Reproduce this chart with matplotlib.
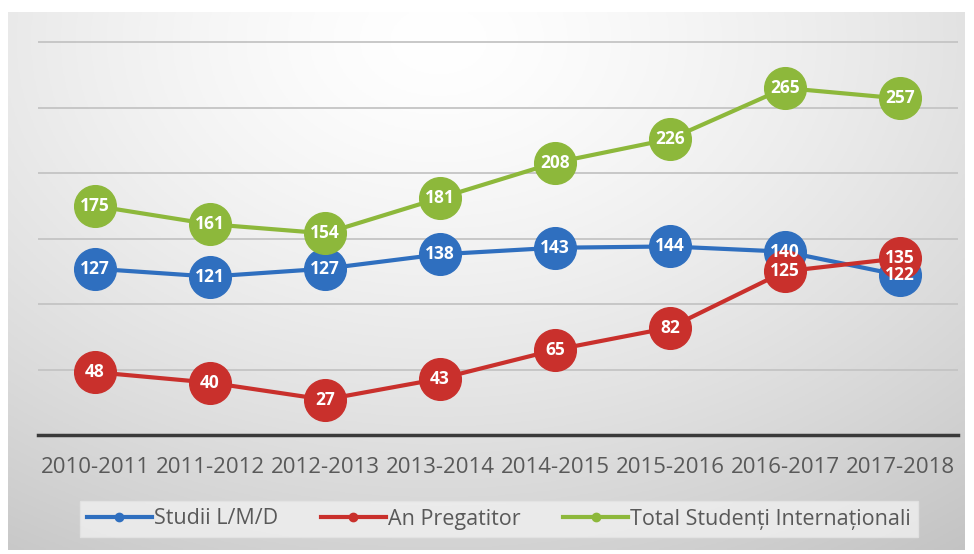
import matplotlib
matplotlib.use('Agg')
import matplotlib.pyplot as plt
import numpy as np
from matplotlib.lines import Line2D

# Данные
years = ['2010-2011', '2011-2012', '2012-2013', '2013-2014',
         '2014-2015', '2015-2016', '2016-2017', '2017-2018']
studii = [127, 121, 127, 138, 143, 144, 140, 122]
pregatitor = [48, 40, 27, 43, 65, 82, 125, 135]
total = [175, 161, 154, 181, 208, 226, 265, 257]

names = ['Studii L/M/D', 'An Pregatitor', 'Total Studenți Internaționali']
colors = ['#2f6fbf', '#c9302c', '#8db83b']

W, H = 974, 554
fig = plt.figure(figsize=(W / 100, H / 100), dpi=100)
fig.patch.set_facecolor('white')

# Фон с градиентом
bg = fig.add_axes([8 / W, 4 / H, 957 / W, 538 / H])
gx, gy = np.meshgrid(np.linspace(0, 1, 300), np.linspace(0, 1, 200))
dist = np.sqrt(((gx - 0.45) / 0.95) ** 2 + ((gy - 0.05) / 1.2) ** 2)
shade = 1.0 - 0.24 * np.clip(dist, 0, 1) ** 1.4
bg.imshow(np.dstack([shade, shade, shade]), aspect='auto', extent=(0, 1, 0, 1), origin='upper')
bg.set_axis_off()

ax = fig.add_axes([37.5 / W, (H - 435) / H, 920 / W, 419 / H])
ax.set_facecolor('none')
x = np.arange(len(years))

for vals, col in zip([studii, pregatitor, total], colors):
    ax.plot(x, vals, color=col, linewidth=3, marker='o', markersize=30,
            markeredgecolor=col, zorder=3)

for vals in [studii, pregatitor, total]:
    for xi, v in zip(x, vals):
        ax.text(xi, v, str(v), ha='center', va='center', color='white',
                fontsize=12.5, fontweight='bold', family='Open Sans', zorder=5)

ax.set_xlim(-0.5, len(years) - 0.5)
ax.set_ylim(0, 320)
ax.set_yticks([50, 100, 150, 200, 250, 300])
ax.yaxis.grid(True, color='#c4c4c4', linewidth=1.3)
ax.set_axisbelow(True)
ax.tick_params(axis='y', left=False, labelleft=False)
ax.tick_params(axis='x', length=0, pad=16)
ax.set_xticks(x)
ax.set_xticklabels(years, fontsize=16, family='Open Sans', color='#595959')
for s in ['top', 'right', 'left']:
    ax.spines[s].set_visible(False)
ax.spines['bottom'].set_color('#3a3a3a')
ax.spines['bottom'].set_linewidth(2.5)

handles = [Line2D([0], [0], color=c, linewidth=3, marker='o', markersize=6) for c in colors]
leg = fig.legend(handles, names, loc='center', bbox_to_anchor=(499 / W, (H - 519) / H),
                 ncol=3, frameon=True, handlelength=3.0, fancybox=False,
                 columnspacing=2.0, handletextpad=0.1, borderpad=0.35,
                 borderaxespad=0, prop={'family': 'Open Sans', 'size': 15.5})
leg.get_frame().set_facecolor('#f0f0f0')
leg.get_frame().set_edgecolor('#e4e4e4')
for t in leg.get_texts():
    t.set_color('#595959')

plt.savefig('out.png', dpi=100)
